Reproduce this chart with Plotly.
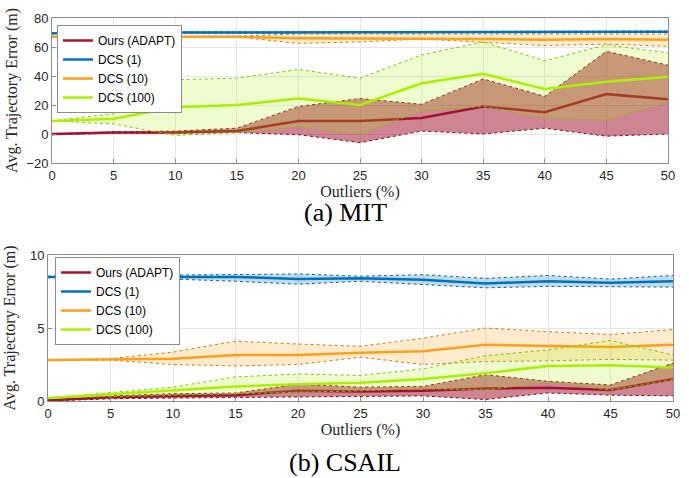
import plotly.graph_objects as go

# ---------------- data ----------------
outliers = [0, 5, 10, 15, 20, 25, 30, 35, 40, 45, 50]

# (a) MIT
mit_ours_mean = [0, 1, 1, 2, 9, 9, 11, 19, 15, 27.5, 24]
mit_ours_up = [0, 1.5, 2, 4, 19, 24.5, 20.5, 38, 26, 57, 47.5]
mit_ours_lo = [-0.5, 0.5, 0.5, 1, -0.5, -6, 2, 0, 4, -1.5, 0]
mit_dcs1_mean = [69.5, 70, 70, 70, 70, 70, 70, 70, 70, 70.5, 70.5]
mit_dcs1_up = [70, 70.5, 70.5, 70.5, 70.5, 70.5, 70.5, 70.5, 70.5, 71, 71]
mit_dcs1_lo = [69, 69.5, 69.5, 69.5, 69.5, 69.5, 69.5, 69.5, 69.5, 70, 70]
mit_dcs10_mean = [67, 67, 67, 67, 66, 66, 66, 65.5, 65, 65.5, 65]
mit_dcs10_up = [67, 67, 67, 67.5, 69, 69, 68.5, 69, 69, 69, 69]
mit_dcs10_lo = [67, 67, 67, 67, 62.5, 63.5, 65.5, 63, 61, 62, 60.5]
mit_dcs100_mean = [9, 10.5, 18.5, 20, 24.5, 20, 35, 41.5, 31, 36, 39.5]
mit_dcs100_up = [9, 14, 37.5, 38.5, 44.5, 38.5, 54.5, 63.5, 50.5, 61.5, 56]
mit_dcs100_lo = [9, 7, -1, 1, 5, 0, 16, 19, 11, 10, 22]

# (b) CSAIL
cs_ours_mean = [0.05, 0.25, 0.35, 0.4, 0.7, 0.65, 0.7, 0.85, 0.9, 0.75, 1.5]
cs_ours_up = [0.05, 0.35, 0.5, 0.55, 1.15, 0.95, 1.0, 1.8, 1.35, 1.1, 2.6]
cs_ours_lo = [0, 0.15, 0.2, 0.25, 0.3, 0.35, 0.35, 0.1, 0.55, 0.4, 0.35]
cs_dcs1_mean = [8.5, 8.5, 8.5, 8.5, 8.35, 8.4, 8.3, 8.05, 8.2, 8.1, 8.2]
cs_dcs1_up = [8.55, 8.6, 8.6, 8.65, 8.7, 8.55, 8.65, 8.4, 8.6, 8.35, 8.6]
cs_dcs1_lo = [8.45, 8.4, 8.35, 8.2, 8.0, 8.2, 8.0, 7.75, 7.85, 7.85, 7.8]
cs_dcs10_mean = [2.8, 2.85, 2.9, 3.15, 3.15, 3.3, 3.4, 3.85, 3.75, 3.7, 3.85]
cs_dcs10_up = [2.8, 2.9, 3.35, 4.1, 3.9, 3.75, 4.3, 5.0, 4.75, 4.55, 4.9]
cs_dcs10_lo = [2.8, 2.8, 2.5, 2.4, 2.5, 3.0, 2.5, 2.7, 2.75, 2.85, 2.8]
cs_dcs100_mean = [0.2, 0.45, 0.7, 1.0, 1.15, 1.25, 1.5, 1.9, 2.4, 2.45, 2.3]
cs_dcs100_up = [0.2, 0.6, 0.95, 1.65, 1.85, 1.75, 2.2, 3.1, 3.5, 4.15, 3.15]
cs_dcs100_lo = [0.2, 0.3, 0.4, 0.45, 0.6, 0.7, 0.85, 0.75, 1.3, 0.75, 1.45]

labels = ["Ours (ADAPT)", "DCS (1)", "DCS (10)", "DCS (100)"]

# ---------------- styles ----------------
line_col = ["#A2142F", "#0072BD", "#F9A11B", "#AAF000"]
edge_col = ["#7E1424", "#1F5F95", "#C9811A", "#86C400"]
fill_col = ["rgba(162,20,47,0.52)", "rgba(0,114,189,0.25)",
            "rgba(249,161,27,0.22)", "rgba(170,240,0,0.19)"]

fig = go.Figure()


def add_series(x, lo, up, mean, i, xa, ya, legend):
    fig.add_trace(go.Scatter(x=x, y=lo, mode="lines", xaxis=xa, yaxis=ya,
                             line=dict(color=edge_col[i], width=1, dash="dot"),
                             showlegend=False, hoverinfo="skip"))
    fig.add_trace(go.Scatter(x=x, y=up, mode="lines", xaxis=xa, yaxis=ya,
                             line=dict(color=edge_col[i], width=1, dash="dot"),
                             fill="tonexty", fillcolor=fill_col[i],
                             showlegend=False, hoverinfo="skip"))
    fig.add_trace(go.Scatter(x=x, y=mean, mode="lines", xaxis=xa, yaxis=ya,
                             line=dict(color=line_col[i], width=2.5),
                             name=labels[i], legend=legend, showlegend=True))


mit = [(mit_ours_lo, mit_ours_up, mit_ours_mean),
       (mit_dcs1_lo, mit_dcs1_up, mit_dcs1_mean),
       (mit_dcs10_lo, mit_dcs10_up, mit_dcs10_mean),
       (mit_dcs100_lo, mit_dcs100_up, mit_dcs100_mean)]
csail = [(cs_ours_lo, cs_ours_up, cs_ours_mean),
         (cs_dcs1_lo, cs_dcs1_up, cs_dcs1_mean),
         (cs_dcs10_lo, cs_dcs10_up, cs_dcs10_mean),
         (cs_dcs100_lo, cs_dcs100_up, cs_dcs100_mean)]

for i, (lo, up, m) in enumerate(mit):
    add_series(outliers, lo, up, m, i, "x", "y", "legend")
for i, (lo, up, m) in enumerate(csail):
    add_series(outliers, lo, up, m, i, "x2", "y2", "legend2")

W, H = 689, 478
tick_font = dict(family="Liberation Sans, Arial, sans-serif", size=13, color="#262626")
title_font = dict(family="Liberation Serif, Times New Roman, serif", size=16, color="#262626")

axis_common = dict(showgrid=True, gridcolor="#E6E6E6", gridwidth=1,
                   showline=True, linecolor="#8C8C8C", linewidth=1, mirror=True,
                   ticks="inside", ticklen=4, tickcolor="#8C8C8C", automargin=False,
                   zeroline=False, tickfont=tick_font, title_font=title_font)

legend_common = dict(xanchor="left", yanchor="top", traceorder="normal",
                     bgcolor="white", bordercolor="#8C8C8C", borderwidth=1,
                     font=dict(family="Liberation Sans, Arial, sans-serif", size=12, color="#000"),
                     tracegroupgap=0, itemwidth=30)

fig.update_layout(
    width=W, height=H,
    margin=dict(l=0, r=0, t=0, b=0, autoexpand=False),
    paper_bgcolor="white", plot_bgcolor="white",
    xaxis=dict(domain=[52 / W, 668 / W], range=[0, 50], tickvals=outliers,
               anchor="y", title=dict(text="Outliers (%)", standoff=0), **axis_common),
    yaxis=dict(domain=[(H - 163) / H, (H - 18) / H], range=[-20, 80],
               tickvals=[-20, 0, 20, 40, 60, 80], anchor="x",
               title=dict(text="Avg. Trajectory Error (m)", standoff=4), **axis_common),
    xaxis2=dict(domain=[48 / W, 673 / W], range=[0, 50], tickvals=outliers,
                anchor="y2", title=dict(text="Outliers (%)", standoff=0), **axis_common),
    yaxis2=dict(domain=[(H - 401) / H, (H - 255) / H], range=[0, 10],
                tickvals=[0, 5, 10], anchor="x2",
                title=dict(text="Avg. Trajectory Error (m)", standoff=10), **axis_common),
    legend=dict(x=57 / W, y=(H - 25) / H, **legend_common),
    legend2=dict(x=55 / W, y=(H - 257) / H, **legend_common),
    annotations=[
        dict(text="(a) MIT", x=345 / W, y=(H - 212) / H, xref="paper", yref="paper",
             showarrow=False, xanchor="center", yanchor="middle",
             font=dict(family="Liberation Serif, Times New Roman, serif", size=26, color="#000")),
        dict(text="(b) CSAIL", x=345 / W, y=(H - 462) / H, xref="paper", yref="paper",
             showarrow=False, xanchor="center", yanchor="middle",
             font=dict(family="Liberation Serif, Times New Roman, serif", size=26, color="#000")),
    ],
)

fig.write_html("out.html",
               config={"displayModeBar": False},
               post_script="document.body.style.margin='0px';document.body.style.padding='0px';")
